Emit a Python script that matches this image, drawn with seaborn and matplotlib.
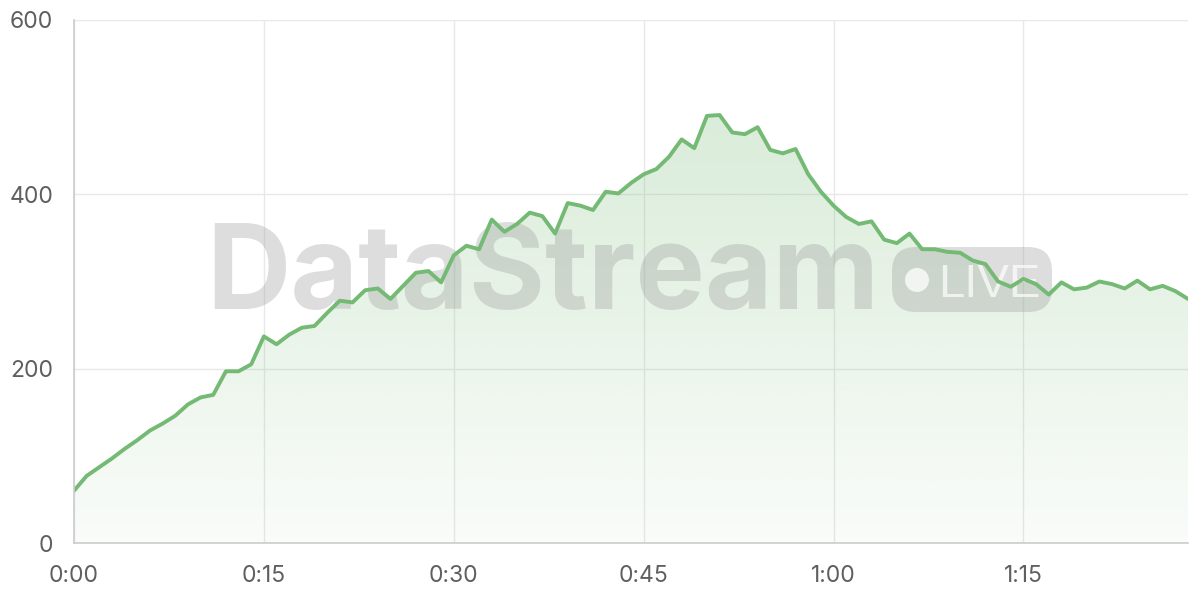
import numpy as np
import pandas as pd
import matplotlib
matplotlib.use("Agg")
import matplotlib.pyplot as plt
import seaborn as sns
from matplotlib.colors import to_rgb
from matplotlib.patches import FancyBboxPatch, Circle
from matplotlib.transforms import IdentityTransform

# data: one reading per minute
minutes = list(range(89))
viewers = [60, 77, 87, 97, 108, 118, 129, 137, 146, 159,
           167, 170, 197, 197, 205, 237, 228, 239, 247, 249,
           264, 278, 276, 290, 292, 280, 295, 310, 312, 299,
           330, 341, 337, 371, 357, 366, 379, 375, 355, 390,
           387, 382, 403, 401, 413, 423, 429, 443, 463, 453,
           490, 491, 471, 469, 477, 451, 447, 452, 423, 403,
           387, 374, 366, 369, 348, 344, 355, 337, 337, 334,
           333, 324, 320, 300, 294, 303, 297, 285, 299, 291,
           293, 300, 297, 292, 301, 291, 295, 289, 280]
x_ticks = [0, 15, 30, 45, 60, 75]
x_labels = ["0:00", "0:15", "0:30", "0:45", "1:00", "1:15"]
y_ticks = [0, 200, 400, 600]

df = pd.DataFrame({"minute": minutes, "value": viewers})
green = "#74b974"

sns.set_theme(style="whitegrid")
plt.rcParams["font.family"] = ["Inter", "DejaVu Sans"]

fig = plt.figure(figsize=(12, 6), dpi=100)
ax = fig.add_axes([74 / 1200, 57 / 600, (1188 - 74) / 1200, (543 - 20) / 600])

# gradient fill under the line
rgba = np.zeros((256, 1, 4))
rgba[..., :3] = to_rgb(green)
rgba[..., 3] = np.linspace(0.04, 0.32, 256).reshape(-1, 1)
im = ax.imshow(rgba, extent=[0, 88, 0, 600], origin="lower", aspect="auto", zorder=1)
poly = ax.fill_between(df["minute"], df["value"], 0, color="none", lw=0)
im.set_clip_path(poly.get_paths()[0], transform=ax.transData)

sns.lineplot(data=df, x="minute", y="value", ax=ax, color=green, lw=2.8, zorder=3)

# watermark
px = IdentityTransform()
wm = "#9a9a9a"
ax.text(206, 600 - 309, "DataStream", transform=px, fontsize=84, fontweight="bold",
        color=wm, alpha=0.33, ha="left", va="baseline", zorder=2,
        family=["Inter", "DejaVu Sans"])
badge = FancyBboxPatch((892, 600 - 312), 160, 65, boxstyle="round,pad=0,rounding_size=24",
                       transform=px, fc=wm, ec="none", alpha=0.33, zorder=2)
ax.add_patch(badge)
ax.add_patch(Circle((917, 600 - 280), 12, transform=px, fc="white", ec="none", alpha=0.75, zorder=2.1))
ax.text(938, 600 - 297, "LIVE", transform=px, fontsize=34, color="white", alpha=0.7,
        ha="left", va="baseline", zorder=2.1, family=["Liberation Sans", "DejaVu Sans"])

ax.set_xlim(0, 88)
ax.set_ylim(0, 600)
ax.set_xticks(x_ticks)
ax.set_xticklabels(x_labels)
ax.set_yticks(y_ticks)
ax.set_xlabel("")
ax.set_ylabel("")
ax.grid(True, color="#e8e8e8", lw=1)
ax.tick_params(axis="both", length=11, width=1, color="#e8e8e8", labelcolor="#5f5f5f",
               labelsize=16.5)
ax.tick_params(axis="y", pad=4)
ax.tick_params(axis="x", pad=5)
ax.set_facecolor("white")
for side in ["top", "right"]:
    ax.spines[side].set_visible(False)
for side in ["left", "bottom"]:
    ax.spines[side].set_color("#cccccc")
    ax.spines[side].set_linewidth(1.2)
    ax.spines[side].set_zorder(4)

fig.savefig("out.png", dpi=100)
